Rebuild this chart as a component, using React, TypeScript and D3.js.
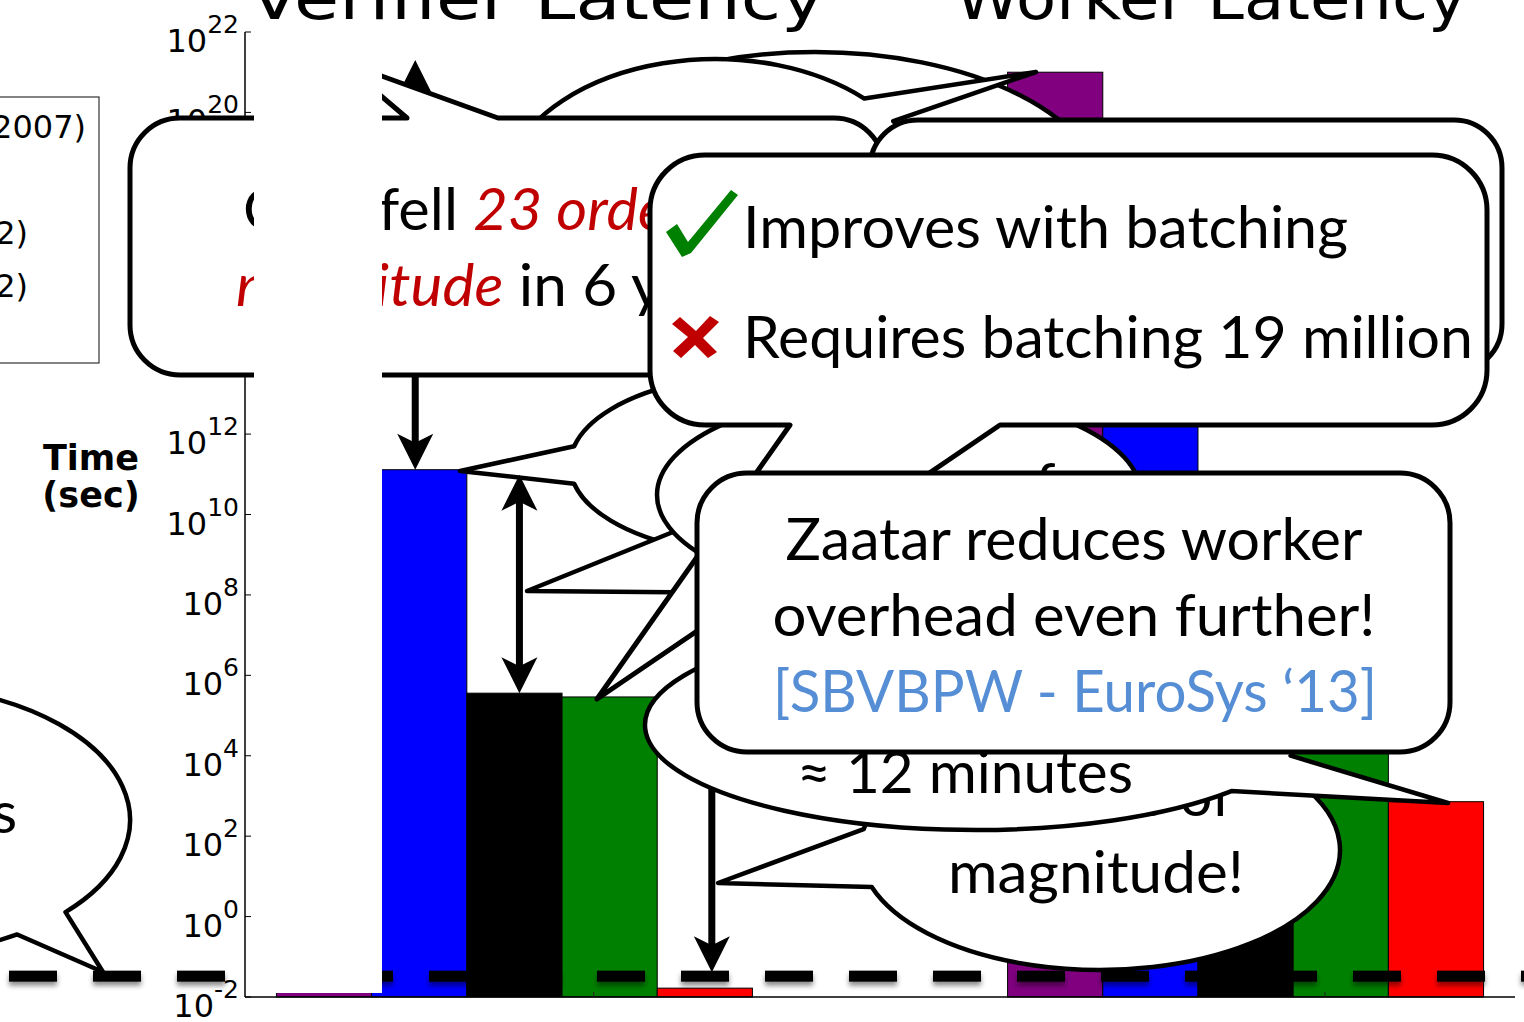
import React from 'react';
import * as d3 from 'd3';

// ---------- data ----------
const groups = ['Verifier', 'Worker'];
const groupTitles = ['Verifier Latency', 'Worker Latency'];
const seriesColors = ['#800080', '#0000ff', '#000000', '#008000', '#ff0000'];
const verifierValues = [2e21, 1.3e11, 3.6e5, 2.9e5, 0.0166];
const workerValues = [1e21, 1e14, 1e4, 3e5, 720];
const yTickExponents = [-2, 0, 2, 4, 6, 8, 10, 12, 14, 16, 18, 20, 22];
const legendFragments = ['(2007)', '', '(2012)', '(2012)'];
const referenceLine = 0.033;

const SLIDE = "Lato, 'Open Sans', sans-serif";
const PLOT = "'DejaVu Sans', sans-serif";

const W = 1524;
const H = 1022;

function ell(cx: number, cy: number, rx: number, ry: number, deg: number): [number, number] {
  const t = (deg * Math.PI) / 180;
  return [cx + rx * Math.cos(t), cy + ry * Math.sin(t)];
}

function bubblePath(cx: number, cy: number, rx: number, ry: number, a1: number, a2: number, tip: [number, number]) {
  const p1 = ell(cx, cy, rx, ry, a1);
  const p2 = ell(cx, cy, rx, ry, a2);
  return `M${p2[0]},${p2[1]} A${rx},${ry} 0 1 1 ${p1[0]},${p1[1]} L${tip[0]},${tip[1]} Z`;
}

type Wedge = { edge: 'top' | 'bottom'; x1: number; x2: number; tip: [number, number] };
function calloutPath(x: number, y: number, w: number, h: number, r: number, wedge?: Wedge) {
  let d = `M${x + r},${y}`;
  if (wedge && wedge.edge === 'top') d += ` L${wedge.x1},${y} L${wedge.tip[0]},${wedge.tip[1]} L${wedge.x2},${y}`;
  d += ` L${x + w - r},${y} A${r},${r} 0 0 1 ${x + w},${y + r}`;
  d += ` L${x + w},${y + h - r} A${r},${r} 0 0 1 ${x + w - r},${y + h}`;
  if (wedge && wedge.edge === 'bottom') d += ` L${wedge.x2},${y + h} L${wedge.tip[0]},${wedge.tip[1]} L${wedge.x1},${y + h}`;
  d += ` L${x + r},${y + h} A${r},${r} 0 0 1 ${x},${y + h - r}`;
  d += ` L${x},${y + r} A${r},${r} 0 0 1 ${x + r},${y} Z`;
  return d;
}

function Arrow({ x, y1, y2, both }: { x: number; y1: number; y2: number; both: boolean }) {
  const hl = 36, hw = 18, notch = 27;
  const head = (yt: number, dir: number) =>
    `M${x},${yt} L${x - hw},${yt - dir * hl} L${x},${yt - dir * notch} L${x + hw},${yt - dir * hl} Z`;
  return (
    <g>
      <line x1={x} x2={x} y1={both ? y1 + notch - 2 : y1} y2={y2 - notch + 2} stroke="#000" strokeWidth={7} />
      {both && <path d={head(y1, -1)} fill="#000" />}
      <path d={head(y2, 1)} fill="#000" />
    </g>
  );
}

const bubbleStyle = { fill: '#fff', stroke: '#000', strokeWidth: 4.5, strokeLinejoin: 'round' as const };
const boxStyle = { fill: '#fff', stroke: '#000', strokeWidth: 5, strokeLinejoin: 'round' as const };

export default function App() {
  const x0 = d3.scaleBand<string>().domain(groups).range([245, 1515]).paddingInner(0.349).paddingOuter(0.043);
  const x1 = d3.scaleBand<number>().domain(d3.range(seriesColors.length)).range([0, x0.bandwidth()]);
  const y = d3.scaleLog().domain([1e-2, 1e22]).range([997, 32]);
  const valuesByGroup = [verifierValues, workerValues];
  const bars = groups.flatMap((g, gi) => valuesByGroup[gi].map((v, si) => ({ g, si, v })));
  const bw = x1.bandwidth();
  const base = y(1e-2);
  const barCenter = (g: string, s: number) => (x0(g) as number) + (x1(s) as number) + bw / 2;

  const refY = y(referenceLine);
  const dashStarts = d3.range(9, W, 84);

  return (
    <svg width={W} height={H} style={{ position: 'absolute', left: 0, top: 0, background: '#fff' }}>
      <defs>
        <filter id="shadow" filterUnits="userSpaceOnUse" x={0} y={refY - 30} width={W} height={60}>
          <feDropShadow dx="0" dy="4" stdDeviation="2.5" floodColor="#000" floodOpacity="0.45" />
        </filter>
      </defs>
      <rect x={0} y={0} width={W} height={H} fill="#fff" />

      {/* bars */}
      {bars.map((b, i) => (
        <rect key={i} x={(x0(b.g) as number) + (x1(b.si) as number)} y={y(b.v)} width={bw} height={base - y(b.v)}
          fill={seriesColors[b.si]} stroke="#000" strokeWidth={1} />
      ))}

      {/* axes */}
      <line x1={245} x2={245} y1={y(1e22)} y2={base} stroke="#000" strokeWidth={1.5} />
      <line x1={245} x2={1515} y1={base} y2={base} stroke="#000" strokeWidth={1.5} />
      {groups.map((g) => {
        const xt = (x0(g) as number) + x0.bandwidth() * (2 / 3);
        return <line key={g} x1={xt} x2={xt} y1={base} y2={base - 5} stroke="#222" strokeWidth={1} />;
      })}
      {yTickExponents.map((e) => {
        const ty = y(Math.pow(10, e));
        return (
          <g key={e}>
            <line x1={245} x2={251} y1={ty} y2={ty} stroke="#000" strokeWidth={1} />
            <text x={239} y={ty + 20} textAnchor="end" fontFamily={PLOT} fontSize={32} fill="#000">
              10<tspan dy={-19} fontSize={25}>{String(e)}</tspan>
            </text>
          </g>
        );
      })}
      <text x={91} y={470} textAnchor="middle" fontFamily={PLOT} fontWeight="bold" fontSize={35}>Time</text>
      <text x={91} y={507} textAnchor="middle" fontFamily={PLOT} fontWeight="bold" fontSize={35}>(sec)</text>

      {/* legend */}
      <rect x={-10} y={97} width={109} height={266} fill="#fff" stroke="#333" strokeWidth={1.2} />
      {legendFragments.map((t, i) => (
        <text key={i} x={i === 0 ? 86 : 28} y={138 + i * 53} textAnchor="end" fontFamily={PLOT} fontSize={32}>{t}</text>
      ))}

      {/* left bubble */}
      <path d={bubblePath(-110, 820, 240, 135, 43, 58, [103, 972])} {...bubbleStyle} />
      <text x={17} y={833} textAnchor="end" fontFamily={SLIDE} fontSize={58}>s</text>

      {/* arrow to the reference line */}
      <Arrow x={barCenter('Verifier', 4) + 7} y1={y(verifierValues[3])} y2={refY - 4} both={false} />

      {/* magnitude bubble */}
      <path d={bubblePath(1100, 850, 240, 120, 162, 190, [718, 883])} {...bubbleStyle} />
      <text x={1232} y={816} textAnchor="end" fontFamily={SLIDE} fontSize={58}>orders of</text>
      <text x={948} y={893} fontFamily={SLIDE} fontSize={58} textLength={296} lengthAdjust="spacingAndGlyphs">magnitude!</text>

      {/* 12 minutes bubble */}
      <path d={bubblePath(975, 725, 330, 105, 17, 39, [1448, 803])} {...bubbleStyle} />
      <text x={797} y={793} fontFamily={SLIDE} fontSize={58} textLength={336} lengthAdjust="spacingAndGlyphs">≈ 12 minutes</text>

      {/* clustered bubbles near the verifier bars */}
      <path d={bubblePath(760, 465, 190, 90, 168, 192, [460, 471])} {...bubbleStyle} />
      <path d="M527,591 L720,513 L760,593 Z" {...bubbleStyle} />
      <ellipse cx={899} cy={495} rx={242} ry={103} {...bubbleStyle} />
      <text x={1003} y={505} fontFamily={SLIDE} fontSize={58}>of</text>

      <Arrow x={barCenter('Verifier', 2) + 5} y1={y(verifierValues[1]) + 5} y2={y(verifierValues[2])} both={true} />

      {/* top bubbles */}
      <ellipse cx={815} cy={200} rx={290} ry={148} {...bubbleStyle} />
      <path d={bubblePath(715, 200, 215, 141, -46, -34, [1036, 72])} {...bubbleStyle} />

      <Arrow x={barCenter('Verifier', 1) - 4} y1={y(verifierValues[0])} y2={y(verifierValues[1])} both={true} />

      {/* box 1 */}
      <path d={calloutPath(130, 118, 754, 257, 50, { edge: 'top', x1: 407, x2: 498, tip: [340, 61] })} {...boxStyle} />
      <text x={243} y={230} fontFamily={SLIDE} fontSize={58} textLength={531} lengthAdjust="spacingAndGlyphs">
        Cost fell <tspan fill="#c00000" fontStyle="italic">23 orders of</tspan>
      </text>
      <text x={236} y={306} fontFamily={SLIDE} fontSize={58} textLength={535} lengthAdjust="spacingAndGlyphs">
        <tspan fill="#c00000" fontStyle="italic">magnitude</tspan> in 6 years
      </text>

      {/* box 2 (behind) */}
      <path d={calloutPath(870, 120, 632, 252, 48)} {...boxStyle} />

      {/* box 3 */}
      <path d={calloutPath(650, 155, 837, 270, 55, { edge: 'bottom', x1: 790, x2: 1000, tip: [597, 699] })} {...boxStyle} />
      <path d="M666,232 L677,224 L688,242 L731,190 L738,195 L691,253 L682,257 Z" fill="#008000" />
      <g fill="#c00000">
        <path d="M672,324 L680,317 L696,331 L710,316 L719,322 L703,338 L717,352 L708,358 L695,345 L681,358 L673,351 L688,337 Z" />
      </g>
      <text x={743} y={248} fontFamily={SLIDE} fontSize={58} textLength={605} lengthAdjust="spacingAndGlyphs">Improves with batching</text>
      <text x={743} y={358} fontFamily={SLIDE} fontSize={58} textLength={730} lengthAdjust="spacingAndGlyphs">Requires batching 19 million</text>

      {/* Zaatar box */}
      <path d={calloutPath(697, 473, 753, 279, 50)} {...boxStyle} />
      <text x={1074} y={560} textAnchor="middle" fontFamily={SLIDE} fontSize={58} textLength={577} lengthAdjust="spacingAndGlyphs">Zaatar reduces worker</text>
      <text x={1074} y={636} textAnchor="middle" fontFamily={SLIDE} fontSize={58} textLength={603} lengthAdjust="spacingAndGlyphs">overhead even further!</text>
      <text x={1075} y={712} textAnchor="middle" fontFamily={SLIDE} fontSize={58} fill="#558ed5" textLength={604} lengthAdjust="spacingAndGlyphs">[SBVBPW - EuroSys ‘13]</text>

      {/* dashed reference line */}
      <g filter="url(#shadow)">
        {dashStarts.map((x) => (
          <rect key={x} x={x} y={refY - 5.5} width={48} height={11} fill="#000" />
        ))}
      </g>

      {/* white mask */}
      <rect x={254} y={38} width={128} height={955} fill="#fff" />

      {/* titles */}
      <text x={537} y={19} textAnchor="middle" fontFamily={PLOT} fontSize={61} textLength={575} lengthAdjust="spacingAndGlyphs">{groupTitles[0]}</text>
      <text x={1211} y={19} textAnchor="middle" fontFamily={PLOT} fontSize={61} textLength={512} lengthAdjust="spacingAndGlyphs">{groupTitles[1]}</text>
    </svg>
  );
}
